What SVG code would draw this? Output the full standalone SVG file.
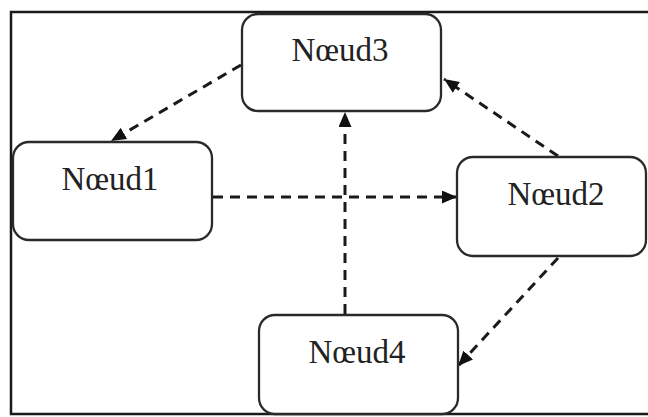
<svg xmlns="http://www.w3.org/2000/svg" width="648" height="417" viewBox="0 0 648 417">
<style>
.frame{fill:none;stroke:#1a1a1a;stroke-width:2.5}
.node rect{fill:#fff;stroke:#2a2a2a;stroke-width:2.3}
.node text{font-family:"Liberation Serif","Times New Roman",serif;font-size:33px;fill:#222;text-anchor:middle}
.conn{fill:none;stroke:#1a1a1a;stroke-width:3;stroke-dasharray:10 7;marker-end:url(#arr)}
</style>
<defs>
<marker id="arr" markerUnits="userSpaceOnUse" markerWidth="15" markerHeight="13" viewBox="0 0 15 13" refX="15" refY="6.5" orient="auto">
<path d="M0,0 L15,6.5 L0,13 Z" fill="#111"/>
</marker>
</defs>
<rect width="648" height="417" fill="#fff"/>
<rect class="frame" x="11" y="12" width="650" height="402"/>
<g id="connectors">
<line class="conn" x1="241" y1="65" x2="111" y2="141"/>
<line class="conn" x1="213" y1="197" x2="457" y2="197"/>
<line class="conn" x1="345" y1="314" x2="345" y2="112"/>
<line class="conn" x1="558" y1="156" x2="444" y2="79"/>
<line class="conn" x1="558" y1="258" x2="458" y2="366"/>
</g>
<g id="node3" class="node">
<rect x="242" y="14" width="199" height="97" rx="16"/>
<text x="340" y="61">Nœud3</text>
</g>
<g id="node1" class="node">
<rect x="13" y="142" width="199" height="98" rx="16"/>
<text x="110" y="190">Nœud1</text>
</g>
<g id="node2" class="node">
<rect x="457" y="157" width="189" height="99" rx="16"/>
<text x="556" y="205">Nœud2</text>
</g>
<g id="node4" class="node">
<rect x="259" y="315" width="199" height="99" rx="16"/>
<text x="357" y="363">Nœud4</text>
</g>
</svg>
